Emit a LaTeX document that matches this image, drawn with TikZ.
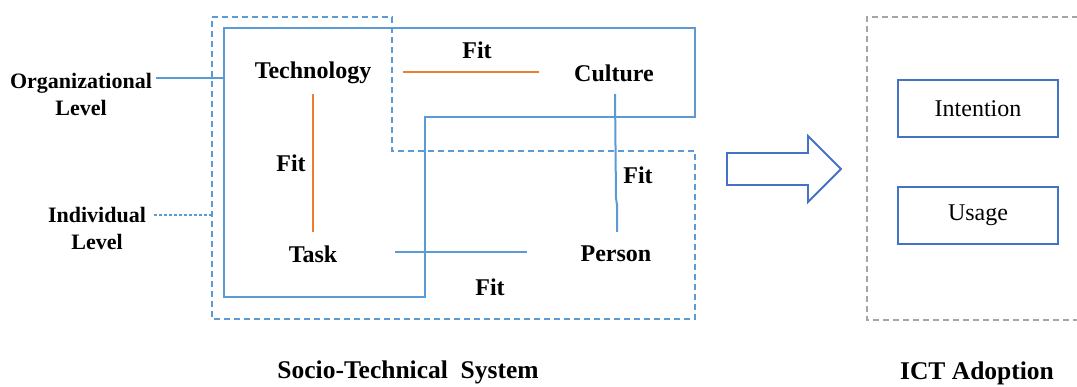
\documentclass[tikz,border=0pt]{standalone}
\usepackage{fontspec}
\setmainfont{Liberation Serif}
\definecolor{lblue}{RGB}{91,155,213}
\definecolor{dblue}{RGB}{68,114,196}
\definecolor{orng}{RGB}{237,125,49}
\definecolor{gry}{RGB}{165,165,165}
\begin{document}
\begin{tikzpicture}[x=1pt,y=-1pt,
  lbl/.style={font=\fontsize{24}{27}\selectfont\bfseries, inner sep=0pt, align=center},
  levlbl/.style={font=\fontsize{22}{27}\selectfont\bfseries, inner sep=0pt, align=center},
  caplbl/.style={font=\fontsize{25.5}{28}\selectfont\bfseries, inner sep=0pt},
  orgline/.style={draw=lblue, line width=1.5pt},
  indline/.style={draw=lblue, line width=1.8pt, dash pattern=on 6pt off 4pt},
  fitorange/.style={draw=orng, line width=2.5pt},
  fitblue/.style={draw=lblue, line width=2pt},
  adbox/.style={draw=dblue, line width=1.8pt, minimum width=160pt, minimum height=57pt, inner sep=0pt, font=\fontsize{24}{27}\selectfont}]
\useasboundingbox (0,0) rectangle (1077,387);
% level frames
\draw[indline] (212,17) -- (392,17) -- (392,151) -- (695,151) -- (695,319) -- (212,319) -- cycle;
\draw[orgline] (224,28) -- (695,28) -- (695,117) -- (425,117) -- (425,297) -- (224,297) -- cycle;
% level labels
\node[levlbl] (org) at (81,94) {Organizational\\Level};
\node[levlbl] (ind) at (97,228) {Individual\\Level};
\coordinate (orgend) at (224,78);
\coordinate (indend) at (212,215);
\draw[draw=lblue, line width=1.2pt] (org.east |- orgend) ++(4,0) -- (orgend);
\draw[draw=lblue, line width=1.2pt, dash pattern=on 3pt off 2pt] (ind.east |- indend) ++(8,0) -- (indend);
% elements
\node[lbl] (tech) at (313,73) {Technology};
\node[lbl] (cult) at (614,73) {Culture};
\node[lbl] (task) at (313,254) {Task};
\node[lbl] (pers) at (616,254) {Person};
% fit connectors
\coordinate (tc1) at (403,72); \coordinate (tc2) at (539,72);
\draw[fitorange] (tc1) -- (tc2);
\node[lbl] (fit1) at (477,50) {Fit};
\coordinate (tt1) at (313,94); \coordinate (tt2) at (313,232);
\draw[fitorange] (tt1) -- (tt2);
\node[lbl] (fit2) at (291,163) {Fit};
\coordinate (cp1) at (615,94); \coordinate (cp2) at (617,232);
\draw[fitblue] (cp1) -- (616,198) -- (617,205) -- (cp2);
\node[lbl] (fit3) at (638,175) {Fit};
\coordinate (tp1) at (395,252); \coordinate (tp2) at (527,252);
\draw[fitblue, line width=1.5pt] (tp1) -- (tp2);
\node[lbl] (fit4) at (490,287) {Fit};
% block arrow
\draw[draw=dblue, line width=1.8pt, line join=miter] (727,153) -- (808,153) -- (808,136) -- (841,169) -- (808,202) -- (808,185) -- (727,185) -- cycle;
% ICT adoption frame
\draw[draw=gry, line width=1.5pt, dash pattern=on 6pt off 4pt] (1078,17) -- (867,17) -- (867,320) -- (1078,320);
\node[adbox] (int) at (978,108.5) {Intention};
\node[adbox] (use) at (978,215.5) {Usage};
% captions
\node[caplbl] (cap1) at (408,372) {Socio-Technical\ \ System};
\node[caplbl] (cap2) at (977,373) {ICT Adoption};
\end{tikzpicture}
\end{document}
